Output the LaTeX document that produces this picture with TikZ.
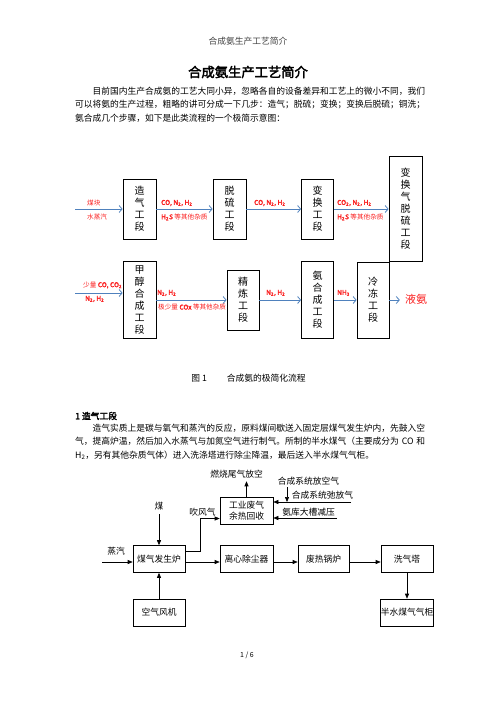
\documentclass[tikz,border=0pt]{standalone}
\usepackage{fontspec}
\setmainfont{Noto Sans CJK SC}[AutoFakeBold=2.5]
\usepackage{xcolor}
\usepackage{tikz}
\usetikzlibrary{positioning}
\usetikzlibrary{calc,arrows.meta}
\XeTeXlinebreaklocale "zh"
\XeTeXlinebreakskip=0pt plus 1pt
\definecolor{flowblue}{RGB}{79,129,189}
\definecolor{lblred}{RGB}{250,30,30}
\newcommand{\fulline}[2]{\makebox[#1][s]{#2}}
\tikzset{
  bodytxt/.style = {inner sep=0pt, font=\fontsize{8.75}{10}\selectfont},
  bodyline/.style = {bodytxt, anchor=west},% a line of running text
  stagebox/.style = {draw=black, line width=0.8pt, inner sep=0pt,
    align=center, minimum width=33pt,
    font=\fontsize{10}{12}\selectfont},% 工段
  lbltxt/.style = {inner sep=0pt, anchor=west, text=lblred,
    font=\fontsize{6.6}{7}\selectfont},% red stream label
  flowarr/.style = {-{Straight Barb[length=3pt,width=7pt]},
    draw=flowblue, line width=0.8pt},
  unitbox/.style = {draw=black, line width=0.6pt, inner sep=0pt,
    minimum width=52pt, minimum height=27pt, align=center,
    font=\fontsize{8.75}{10.5}\selectfont},% equipment
  pipearr/.style = {-{Stealth[length=5pt,width=4pt,inset=0pt]},
    line width=0.6pt},
  notetxt/.style = {inner sep=0pt, font=\fontsize{8.75}{10}\selectfont}
}
\begin{document}
\begin{tikzpicture}[x=1pt,y=-1pt]
\useasboundingbox (0,0) rectangle (496,702);
% page head and intro
\node [bodytxt, text=black!75] (head) at (248,41) {合成氨生产工艺简介};
\node [bodytxt, font=\bfseries\fontsize{13.3}{15}\selectfont] (title)
  at (248,72) {合成氨生产工艺简介};
\node [bodyline] (p1a) at (92.5,91)
  {\fulline{332.5pt}{目前国内生产合成氨的工艺大同小异，忽略各自的设备差异和工艺上的微小不同，我们}};
\node [bodyline] (p1b) at (75,104.5)
  {\fulline{350pt}{可以将氨的生产过程，粗略的讲可分成一下几步：造气；脱硫；变换；变换后脱硫；铜洗；}};
\node [bodyline] (p1c) at (75,118) {氨合成几个步骤，如下是此类流程的一个极简示意图：};

% figure 1: stages
\node [stagebox, minimum height=60pt] (zaoqi) at (139.5,209) {造\\气\\工\\段};
\node [stagebox, minimum height=60pt] (tuoliu) at (229.5,209) {脱\\硫\\工\\段};
\node [stagebox, minimum height=60pt, minimum width=32pt] (bianhuan)
  at (317.5,209) {变\\换\\工\\段};
\node [stagebox, minimum height=105pt] (bhtl) at (405.5,209)
  {变\\换\\气\\脱\\硫\\工\\段};
\node [stagebox, minimum height=77pt] (jiachun) at (139.5,300)
  {甲\\醇\\合\\成\\工\\段};
\node [stagebox, minimum height=60pt, minimum width=32pt] (jinglian)
  at (243,300) {精\\炼\\工\\段};
\node [stagebox, minimum height=77pt, minimum width=32pt] (anhecheng)
  at (317.5,300) {氨\\合\\成\\工\\段};
\node [stagebox, minimum height=76pt, minimum width=32pt] (lengdong)
  at (373,300) {冷\\冻\\工\\段};
\node [inner sep=5pt, text=lblred, font=\fontsize{11}{12}\selectfont] (yean)
  at (416,299) {液氨};

\coordinate (coalin) at (75,209);
\coordinate (methin) at (75,293);
\draw [flowarr] (coalin) -- (zaoqi.west);
\draw [flowarr] (zaoqi) -- (tuoliu);
\draw [flowarr] (tuoliu) -- (bianhuan);
\draw [flowarr] (bianhuan) -- (bhtl);
\draw [flowarr] (methin) -- (methin -| jiachun.west);
\draw [flowarr] (jiachun) -- (jinglian);
\draw [flowarr] (jinglian) -- (anhecheng);
\draw [flowarr] (anhecheng) -- (lengdong);
\draw [flowarr] (lengdong.east) -- (lengdong.east -| yean.west);

% stream labels
\node [lbltxt] (la1) at (87,203) {煤块};
\node [lbltxt] (la2) at (87,217) {水蒸汽};
\node [lbltxt] (lb1) at (161,203) {\bfseries CO, N\textsubscript{2}, H\textsubscript{2}};
\node [lbltxt] (lb2) at (161,217) {\bfseries H\textsubscript{2}S\mdseries\ 等其他杂质};
\node [lbltxt] (lc1) at (254,203) {\bfseries CO, N\textsubscript{2}, H\textsubscript{2}};
\node [lbltxt] (ld1) at (337,203) {\bfseries CO\textsubscript{2}, N\textsubscript{2}, H\textsubscript{2}};
\node [lbltxt] (ld2) at (337,217) {\bfseries H\textsubscript{2}S\mdseries\ 等其他杂质};
\node [lbltxt] (le1) at (83,285) {少量 \bfseries CO, CO\textsubscript{2}};
\node [lbltxt] (le2) at (85,299) {\bfseries N\textsubscript{2}, H\textsubscript{2}};
\node [lbltxt] (lf1) at (157,293) {\bfseries N\textsubscript{2}, H\textsubscript{2}};
\node [lbltxt] (lf2) at (158,307) {极少量 \textbf{COx} 等其他杂质};
\node [lbltxt] (lg1) at (266,293) {\bfseries N\textsubscript{2}, H\textsubscript{2}};
\node [lbltxt] (lh1) at (337,293) {\bfseries NH\textsubscript{3}};

\node [bodytxt] (cap1) at (248.5,378) {图 1\hspace{20pt}合成氨的极简化流程};

% section 1
\node [bodyline, font=\bfseries\fontsize{8.75}{10}\selectfont] (sec1)
  at (75,416) {1 造气工段};
\node [bodyline] (p2a) at (92.5,428)
  {\fulline{332.5pt}{造气实质上是碳与氧气和蒸汽的反应，原料煤间歇送入固定层煤气发生炉内，先鼓入空}};
\node [bodyline] (p2b) at (75,441.5)
  {\fulline{350pt}{气，提高炉温，然后加入水蒸气与加氮空气进行制气。所制的半水煤气（主要成分为 CO 和}};
\node [bodyline] (p2c) at (75,455)
  {H\textsubscript{2}，另有其他杂质气体）进入洗涤塔进行除尘降温，最后送入半水煤气气柜。};

% figure 2: equipment
\node [unitbox, minimum width=53pt] (waste) at (246.5,510.5) {工业废气\\余热回收};
\node [unitbox] (gen) at (159,559) {煤气发生炉};
\node [unitbox] (fan) at (159,612.5) {空气风机};
\node [unitbox, minimum width=53pt] (cyclone) at (246.5,559) {离心除尘器};
\node [unitbox, minimum width=51pt] (boiler) at (323.5,559) {废热锅炉};
\node [unitbox] (wash) at (407,559) {洗气塔};
\node [unitbox] (holder) at (407,612.5) {半水煤气气柜};

\node [notetxt] (vent) at (236.5,474) {燃烧尾气放空};
\node [notetxt] (synvent) at (308.5,481) {合成系统放空气};
\node [notetxt] (purge) at (322.5,495) {合成系统弛放气};
\node [notetxt] (tank) at (308.5,512.5) {氨库大槽减压};
\node [notetxt] (coal) at (159,506) {煤};
\node [notetxt] (steam) at (116,551) {蒸汽};
\node [notetxt] (blowgas) at (202.5,512) {吹风气};

\coordinate (steamin) at (102,562);
\coordinate (purgeend) at (351,502);
\coordinate (dropx) at (287,487);
\coordinate (tankend) at (337,518);
\draw [pipearr] (waste.north) -- ([yshift=-3pt]waste.north |- vent.south);
\draw [pipearr] (dropx) -- (dropx |- purgeend);
\draw [pipearr] (purgeend) -- (purgeend -| waste.east);
\draw [pipearr] (tankend) -- (tankend -| waste.east);
\draw [pipearr] ([yshift=-4pt]coal.south) -- (gen.north);
\draw [pipearr] (steamin) -- (steamin -| gen.west);
\draw [pipearr] (fan) -- (gen);
\draw [pipearr] ([yshift=8pt]gen.east) -- ++(15,0) |- ([yshift=-8pt]waste.west);
\draw [pipearr] ([yshift=-3pt]gen.east) -- ([yshift=-3pt]cyclone.west);
\draw [pipearr] ([yshift=-3pt]cyclone.east) -- ([yshift=-3pt]boiler.west);
\draw [pipearr] ([yshift=-3pt]boiler.east) -- ([yshift=-3pt]wash.west);
\draw [pipearr] (wash) -- (holder);

\node [bodytxt, font=\fontsize{7}{8}\selectfont] (pgno) at (247,655) {1 / 6};
\end{tikzpicture}
\end{document}
